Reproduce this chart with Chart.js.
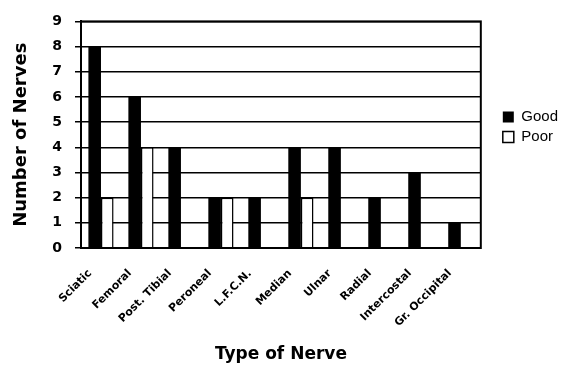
<!DOCTYPE html>
<html>
<head>
<meta charset="utf-8">
<script src="https://cdn.jsdelivr.net/npm/chart.js@4"></script>
<style>
  body { margin: 0; background: #fff; }
  #wrap { width: 582px; height: 371px; }
</style>
</head>
<body>
<div id="wrap"><canvas id="nerveChart" width="582" height="371"></canvas></div>
<script>
const nerves = ['Sciatic', 'Femoral', 'Post. Tibial', 'Peroneal', 'L.F.C.N.', 'Median', 'Ulnar', 'Radial', 'Intercostal', 'Gr. Occipital'];
const good = [8, 6, 4, 2, 2, 4, 4, 2, 3, 1];
const poor = [2, 4, 0, 2, 0, 2, 0, 0, 0, 0];
const yTicks = [0, 1, 2, 3, 4, 5, 6, 7, 8, 9];

// box around the plot area (top and right edges)
const frame = {
  id: 'frame',
  afterDraw(chart) {
    const a = chart.chartArea;
    const c = chart.ctx;
    c.save();
    c.strokeStyle = '#000';
    c.lineWidth = 2;
    c.strokeRect(a.left, a.top, a.right - a.left, a.bottom - a.top);
    c.restore();
  }
};

const ctx = document.getElementById('nerveChart').getContext('2d');
new Chart(ctx, {
  type: 'bar',
  data: {
    labels: nerves,
    datasets: [
      {
        label: 'Good',
        data: good,
        backgroundColor: '#000',
        borderColor: '#000',
        borderWidth: 0,
      },
      {
        label: 'Poor',
        data: poor,
        backgroundColor: '#fff',
        borderColor: '#000',
        borderWidth: 1.5,
      },
    ],
  },
  options: {
    responsive: false,
    animation: false,
    layout: { padding: { left: 4, top: 20, right: 14, bottom: 4 } },
    datasets: { bar: { categoryPercentage: 0.63, barPercentage: 1 } },
    plugins: {
      legend: {
        position: 'right',
        align: 'start',
        title: { display: true, text: ' ', padding: { top: 70 } },
        labels: {
          color: '#000',
          font: { family: 'Liberation Sans', size: 15 },
          boxWidth: 11,
          boxHeight: 11,
          padding: 5,
        },
      },
      tooltip: { enabled: false },
    },
    scales: {
      x: {
        afterFit: (axis) => { axis.height = 119; },
        grid: { display: false, drawTicks: false },
        border: { color: '#000', width: 2 },
        ticks: {
          color: '#000',
          font: { family: 'DejaVu Sans', size: 11, weight: 'bold' },
          maxRotation: 45,
          minRotation: 45,
          autoSkip: false,
          padding: 19,
          labelOffset: -11,
        },
        title: {
          display: true,
          text: 'Type of Nerve',
          color: '#000',
          font: { family: 'DejaVu Sans', size: 17, weight: 'bold' },
          padding: { top: 2, bottom: 2 },
        },
      },
      y: {
        min: 0,
        max: 9,
        afterBuildTicks: (axis) => { axis.ticks = yTicks.map((v) => ({ value: v })); },
        afterFit: (axis) => { axis.width = 77; },
        grid: { color: '#000', lineWidth: 1.5, tickLength: 6 },
        border: { color: '#000', width: 2 },
        ticks: {
          color: '#000',
          font: { family: 'DejaVu Sans', size: 14, weight: 'bold' },
          padding: 13,
        },
        title: {
          display: true,
          text: 'Number of Nerves',
          color: '#000',
          font: { family: 'DejaVu Sans', size: 18, weight: 'bold' },
          padding: { top: 7, bottom: 4 },
        },
      },
      // empty spacer between the plot and the legend
      gap: {
        type: 'linear',
        position: 'right',
        afterFit: (axis) => { axis.width = 17; },
        grid: { display: false, drawTicks: false },
        border: { display: false },
        ticks: { display: false },
      },
    },
  },
  plugins: [frame],
});
</script>
</body>
</html>
